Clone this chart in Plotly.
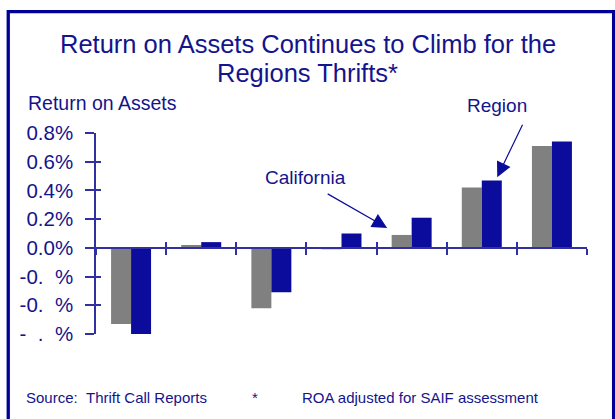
import plotly.graph_objects as go

# ---- data ----
groups = [0, 1, 2, 3, 4, 5, 6]
california = [-0.53, 0.02, -0.42, -0.01, 0.09, 0.42, 0.71]
region = [-0.60, 0.04, -0.31, 0.10, 0.21, 0.47, 0.74]
ytick_vals = [0.8, 0.6, 0.4, 0.2, 0.0, -0.2, -0.4, -0.6]
ytick_text = ["0.8%", "0.6%", "0.4%", "0.2%", "0.0%",
              "-0.\u00a0\u00a0%", "-0.\u00a0\u00a0%", "-\u00a0\u00a0.\u00a0\u00a0%"]
xbound_vals = [-0.5, 0.5, 1.5, 2.5, 3.5, 4.5, 5.5, 6.5]

# ---- style ----
W, H = 615, 419
L, R, T, B = 96, 586.7, 132.7, 334.3
TXT = "#14148C"
BLUE = "#0C0C9C"
GRAY = "#808080"
AX = "#3030A0"
FONT = "Liberation Sans, Arial, sans-serif"
YMIN, YMAX = -0.6, 0.8


def px_x(p):
    return (p - L) / (R - L)


def px_y(p):
    return (B - p) / (B - T)


fig = go.Figure()
fig.add_trace(go.Bar(x=groups, y=california, name="California",
                     marker=dict(color=GRAY, line=dict(width=0))))
fig.add_trace(go.Bar(x=groups, y=region, name="Region",
                     marker=dict(color=BLUE, line=dict(width=0))))
# helper trace so the overlay axes (inner half of tick marks) are drawn
fig.add_trace(go.Scatter(x=[None], y=[None], xaxis="x2", yaxis="y2",
                         showlegend=False, hoverinfo="skip"))

zero_pos = (0 - YMIN) / (YMAX - YMIN)

fig.update_layout(
    width=W, height=H, autosize=False,
    margin=dict(l=L, r=W - R, t=T, b=H - B, pad=0),
    paper_bgcolor="white", plot_bgcolor="white",
    showlegend=False,
    barmode="group", bargap=0.43, bargroupgap=0,
    font=dict(family=FONT, color=TXT),
    xaxis=dict(range=[-0.5, 6.5], tickmode="array", tickvals=xbound_vals,
               showticklabels=False, ticks="outside", ticklen=6,
               tickcolor=AX, tickwidth=1.5, showline=True, linecolor=AX,
               linewidth=1.5, showgrid=False, zeroline=False,
               anchor="free", position=zero_pos),
    xaxis2=dict(range=[-0.5, 6.5], overlaying="x", tickmode="array",
                tickvals=xbound_vals, showticklabels=False, ticks="inside",
                ticklen=6, tickcolor=AX, tickwidth=1.5, showline=False,
                showgrid=False, zeroline=False, anchor="free",
                position=zero_pos),
    yaxis=dict(range=[YMIN, YMAX], tickmode="array", tickvals=ytick_vals,
               ticktext=ytick_text, ticks="outside", ticklen=9,
               tickcolor=AX, tickwidth=1.5, showline=True, linecolor=AX,
               linewidth=1.5, showgrid=False, zeroline=False,
               tickfont=dict(size=20.5, color=TXT, family=FONT),
               ticklabelstandoff=8),
    yaxis2=dict(range=[YMIN, YMAX], overlaying="y", tickmode="array",
                tickvals=ytick_vals, showticklabels=False, ticks="inside",
                ticklen=5, tickcolor=AX, tickwidth=1.5, showline=False,
                showgrid=False, zeroline=False),
)

ann = []
# title lines
ann.append(dict(text="Return on Assets Continues to Climb for the",
                x=px_x(W / 2), y=px_y(43), xref="paper", yref="paper",
                xanchor="center", yanchor="middle", showarrow=False,
                font=dict(size=25.5, color=TXT)))
ann.append(dict(text="Regions Thrifts*",
                x=px_x(W / 2), y=px_y(73), xref="paper", yref="paper",
                xanchor="center", yanchor="middle", showarrow=False,
                font=dict(size=25.5, color=TXT)))
# axis title
ann.append(dict(text="Return on Assets", x=px_x(26), y=px_y(103),
                xref="paper", yref="paper", xanchor="left", yanchor="middle",
                showarrow=False, font=dict(size=19.5, color=TXT)))
# series labels
ann.append(dict(text="California", x=px_x(305), y=px_y(177),
                xref="paper", yref="paper", xanchor="center",
                yanchor="middle", showarrow=False,
                font=dict(size=19, color=TXT)))
ann.append(dict(text="Region", x=px_x(497), y=px_y(105),
                xref="paper", yref="paper", xanchor="center",
                yanchor="middle", showarrow=False,
                font=dict(size=19, color=TXT)))
# arrows
ann.append(dict(text="", x=px_x(387), y=px_y(228), xref="paper",
                yref="paper", ax=-61, ay=-35, showarrow=True, arrowhead=2,
                arrowsize=2.5, arrowwidth=1.2, arrowcolor=BLUE))
ann.append(dict(text="", x=px_x(497), y=px_y(177), xref="paper",
                yref="paper", ax=26, ay=-54, showarrow=True, arrowhead=2,
                arrowsize=2.5, arrowwidth=1.2, arrowcolor=BLUE))
# footer
ann.append(dict(text="Source:\u00a0\u00a0Thrift Call Reports", x=px_x(24),
                y=px_y(398), xref="paper", yref="paper", xanchor="left",
                yanchor="middle", showarrow=False,
                font=dict(size=15, color=TXT)))
ann.append(dict(text="*", x=px_x(255), y=px_y(398), xref="paper",
                yref="paper", xanchor="center", yanchor="middle",
                showarrow=False, font=dict(size=15, color=TXT)))
ann.append(dict(text="ROA adjusted for SAIF assessment", x=px_x(300),
                y=px_y(398), xref="paper", yref="paper", xanchor="left",
                yanchor="middle", showarrow=False,
                font=dict(size=15, color=TXT)))
fig.update_layout(annotations=ann)

# outer frame
fig.add_shape(type="rect", xref="paper", yref="paper",
              x0=px_x(8.3), x1=px_x(613.3), y0=px_y(430), y1=px_y(11),
              line=dict(color="#000099", width=3.3), fillcolor="rgba(0,0,0,0)",
              layer="above")

fig.write_html("out.html",
               config={"displayModeBar": False},
               post_script="document.body.style.margin='0';"
                           "document.body.style.overflow='hidden';")
